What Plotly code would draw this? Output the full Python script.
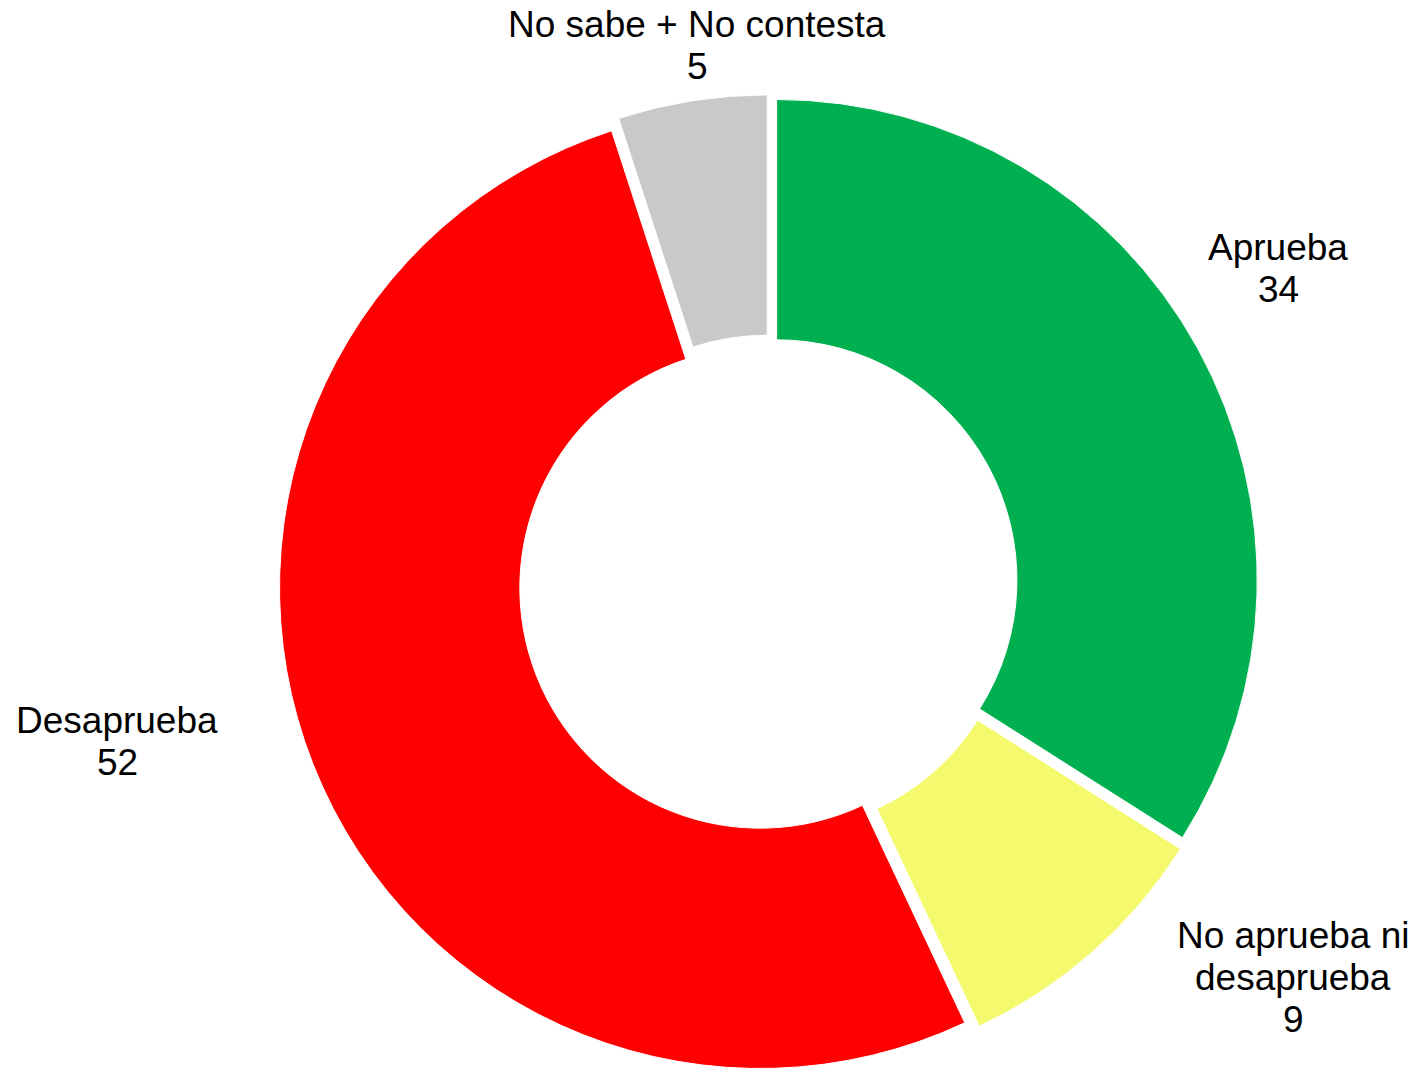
import plotly.graph_objects as go

categories = ["Aprueba", "No aprueba ni desaprueba", "Desaprueba", "No sabe + No contesta"]
values = [34, 9, 52, 5]
colors = ["#00B050", "#F5F96D", "#FF0000", "#C9C9C9"]
label_lines = [["Aprueba"], ["No aprueba ni", "desaprueba"], ["Desaprueba"], ["No sabe + No contesta"]]
# label anchor (screen pixel center x, first line center y)
label_pos = [(1278, 247), (1293, 935), (117, 720), (697, 25)]

W, H = 1422, 1074
OFF = 8  # page body margin
LINE = 42
FONT = dict(family="Liberation Sans, Arial, sans-serif", size=37, color="#000000")

fig = go.Figure()
fig.add_trace(go.Pie(
    labels=categories,
    values=values,
    marker=dict(colors=colors, line=dict(color="white", width=1)),
    hole=0.5,
    sort=False,
    direction="clockwise",
    rotation=0,
    pull=[0.019] * 4,
    textinfo="none",
    hoverinfo="label+value",
    showlegend=False,
    domain=dict(x=[0.1894, 0.8804], y=[0.0072, 0.9192]),
))

annotations = []
for lines, val, (px, py) in zip(label_lines, values, label_pos):
    for i, t in enumerate(lines + [str(val)]):
        annotations.append(dict(
            text=t, x=(px - OFF) / W, y=1 - (py - OFF + i * LINE) / H,
            xref="paper", yref="paper", xanchor="center", yanchor="middle",
            showarrow=False, font=FONT,
        ))

fig.update_layout(
    width=W, height=H,
    margin=dict(l=0, r=0, t=0, b=0),
    paper_bgcolor="white", plot_bgcolor="white",
    annotations=annotations,
)

fig.write_html("out.html")
